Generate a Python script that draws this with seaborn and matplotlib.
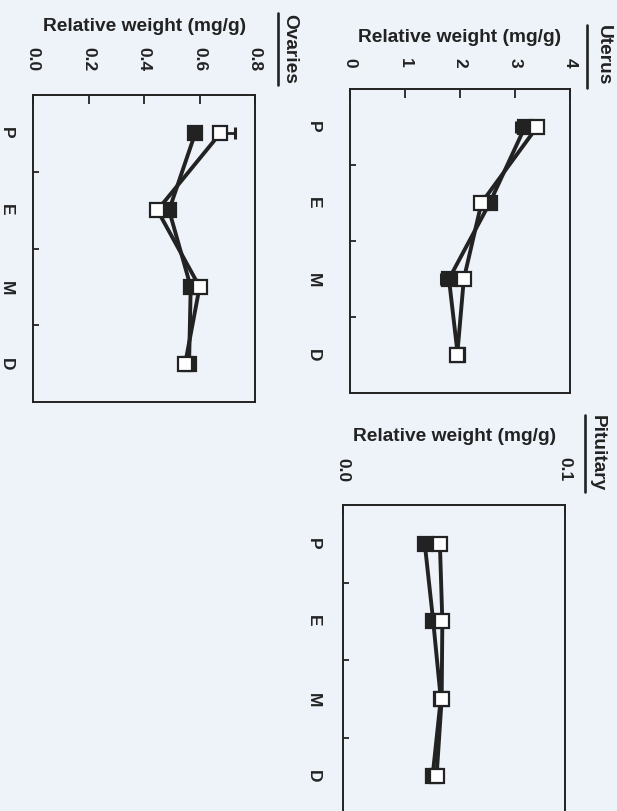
import matplotlib
matplotlib.use('Agg')
import matplotlib.pyplot as plt
import pandas as pd
import seaborn as sns

# oestrous cycle stages
stages = ['P', 'E', 'M', 'D']

# relative weights (mg/g), filled squares vs open squares
uterus_filled = [3.18, 2.54, 1.80, 1.96]
uterus_open = [3.40, 2.39, 2.07, 1.95]
uterus_filled_lo = [0.16, 0.0, 0.14, 0.0]
uterus_filled_hi = [0.0, 0.0, 0.0, 0.08]
uterus_open_lo = [0.0, 0.0, 0.0, 0.0]
uterus_open_hi = [0.0, 0.0, 0.0, 0.0]

ovaries_filled = [0.584, 0.490, 0.568, 0.562]
ovaries_open = [0.674, 0.448, 0.600, 0.548]
ovaries_filled_lo = [0.0, 0.0, 0.025, 0.0]
ovaries_filled_hi = [0.0, 0.0, 0.0, 0.0]
ovaries_open_lo = [0.0, 0.0, 0.0, 0.0]
ovaries_open_hi = [0.054, 0.0, 0.0, 0.0]

pituitary_filled = [0.0368, 0.0406, 0.0440, 0.0403]
pituitary_open = [0.0436, 0.0447, 0.0444, 0.0421]
pituitary_filled_lo = [0.0015, 0.0, 0.0, 0.003]
pituitary_filled_hi = [0.0, 0.0, 0.0, 0.0]
pituitary_open_lo = [0.0, 0.0, 0.0, 0.0]
pituitary_open_hi = [0.0, 0.0, 0.0, 0.0]

uterus_ticks = [0, 1, 2, 3, 4]
uterus_ticklabels = ['0', '1', '2', '3', '4']
ovaries_ticks = [0.0, 0.2, 0.4, 0.6, 0.8]
ovaries_ticklabels = ['0.0', '0.2', '0.4', '0.6', '0.8']
pituitary_ticks = [0.0, 0.1]
pituitary_ticklabels = ['0.0', '0.1']

ink = '#222222'
paper = '#edf3f9'

sns.set_theme(style='ticks')
plt.rcParams['font.family'] = ['Liberation Sans', 'DejaVu Sans']
plt.rcParams['font.weight'] = 'bold'
plt.rcParams['axes.labelweight'] = 'bold'
plt.rcParams['text.color'] = ink
plt.rcParams['axes.labelcolor'] = ink
plt.rcParams['xtick.color'] = ink
plt.rcParams['ytick.color'] = ink
plt.rcParams['axes.edgecolor'] = ink

fig = plt.figure(figsize=(6.17, 8.11), dpi=100, facecolor=paper)


def draw_panel(rect, name, filled, opened, errs, ticks, ticklabels, xmax,
               xpad, ypad, title_xy, line_x, line_y):
    ax = fig.add_axes(rect)
    ax.set_facecolor(paper)
    df = pd.DataFrame({'stage': stages * 2,
                       'weight': filled + opened,
                       'group': ['filled'] * 4 + ['open'] * 4})
    styles = {'filled': ink, 'open': 'white'}
    for i, (grp, face) in enumerate(styles.items()):
        sub = df[df['group'] == grp]
        lo, hi = errs[i]
        ax.errorbar(sub['weight'], sub['stage'], xerr=[lo, hi], fmt='none',
                    ecolor=ink, elinewidth=2.0, capsize=4.5, capthick=2.2,
                    zorder=1.5 + i)
        sns.lineplot(data=sub, x='weight', y='stage', orient='y', sort=False,
                     errorbar=None, color=ink, linewidth=2.8, marker='s',
                     markersize=10, markerfacecolor=face, markeredgecolor=ink,
                     markeredgewidth=1.6, zorder=2 + i, ax=ax, legend=False)

    ax.set_xlim(0, xmax)
    ax.set_ylim(3.5, -0.5)
    ax.xaxis.tick_top()
    ax.xaxis.set_label_position('top')
    ax.set_xticks(ticks)
    ax.set_xticklabels(ticklabels)
    ax.set_xlabel('Relative weight (mg/g)', fontsize=13.8, labelpad=12)
    ax.set_ylabel('')
    ax.set_yticks(range(len(stages)))
    ax.set_yticklabels(stages)
    ax.set_yticks([0.5, 1.5, 2.5], minor=True)
    ax.tick_params(axis='x', direction='in', length=6.5, width=1.3, pad=xpad,
                   labelsize=12.5, labelrotation=-90)
    ax.tick_params(axis='y', which='major', length=0, pad=ypad,
                   labelsize=12.5, labelrotation=-90)
    ax.tick_params(axis='y', which='minor', direction='in', length=4,
                   width=1.3)
    for sp in ax.spines.values():
        sp.set_linewidth(1.4)
        sp.set_visible(True)

    ax.text(title_xy[0], title_xy[1], name, transform=ax.transAxes,
            rotation=-90, ha='center', va='center', fontsize=13.8)
    ax.plot([line_x, line_x], line_y, transform=ax.transAxes, color=ink,
            linewidth=1.9, clip_on=False)
    return ax


draw_panel([0.567, 0.5154, 0.357, 0.375], 'Uterus',
           uterus_filled, uterus_open,
           [(uterus_filled_lo, uterus_filled_hi), (uterus_open_lo, uterus_open_hi)],
           uterus_ticks, uterus_ticklabels, 4,
           15, 21, (1.152, 1.112), 1.077, [1.21, 1.003])

draw_panel([0.0535, 0.5043, 0.360, 0.3785], 'Ovaries',
           ovaries_filled, ovaries_open,
           [(ovaries_filled_lo, ovaries_filled_hi), (ovaries_open_lo, ovaries_open_hi)],
           ovaries_ticks, ovaries_ticklabels, 0.8,
           17, 13.5, (1.158, 1.15), 1.104, [1.267, 1.033])

draw_panel([0.556, -0.005, 0.360, 0.382], 'Pituitary',
           pituitary_filled, pituitary_open,
           [(pituitary_filled_lo, pituitary_filled_hi), (pituitary_open_lo, pituitary_open_hi)],
           pituitary_ticks, pituitary_ticklabels, 0.1,
           17, 16, (1.144, 1.168), 1.09, [1.29, 1.042])

fig.savefig('out.png', dpi=100, facecolor=paper)
